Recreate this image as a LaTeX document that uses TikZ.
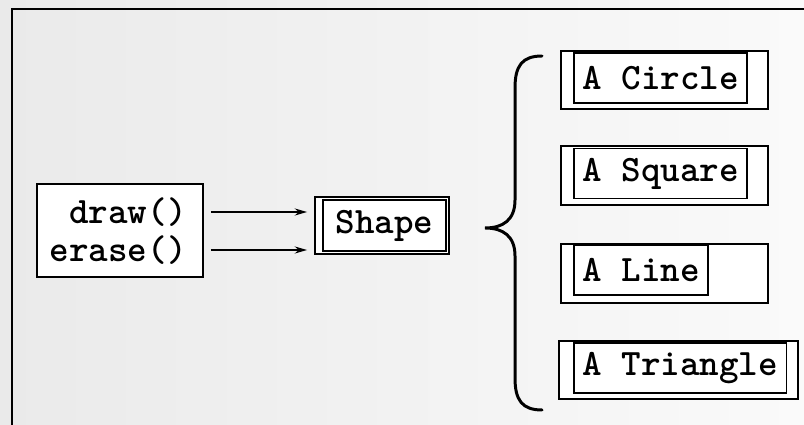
\documentclass[tikz,border=0pt]{standalone}
\usepackage{fontspec}
\newfontfamily\codefont{Latin Modern Mono Light}
\usetikzlibrary{arrows.meta}
\definecolor{bgleft}{RGB}{234,234,234}
\definecolor{bgright}{RGB}{250,250,250}
\tikzset{
  code/.style={font=\codefont\bfseries\fontsize{21.2}{25}\selectfont, inner sep=0cm},
  frame/.style={draw=black, line width=1.1pt, fill=white, inner sep=0cm},
  label box/.style={code, frame, anchor=west, minimum height=1.0cm, inner xsep=0.17cm},
  call/.style={-{Stealth[length=7pt, width=4pt]}, line width=1pt, shorten <=0.14cm, shorten >=0.14cm},
}
\begin{document}
\begin{tikzpicture}[x=0.02cm, y=-0.02cm]
\useasboundingbox (0,0) rectangle (804,425);
\shade[left color=bgleft, right color=bgright] (0,0) rectangle (804,425);
\draw[line width=1.7pt] (12,425) -- (12,9) -- (804,9);
% the interface
\node[frame, minimum width=3.32cm, minimum height=1.86cm] at (120,230.5) (methods) {};
\node[code, anchor=east] at (187,212) (draw) {draw()};
\node[code, anchor=east] at (187,250) (erase) {erase()};
\node[frame, minimum width=2.68cm, minimum height=1.14cm] at (382,225.5) (shape) {};
\node[frame, code, minimum width=2.46cm, minimum height=1.02cm] at (384.5,225.5) (shapein) {Shape};
\draw[call] (draw -| methods.east) -- (draw -| shape.west);
\draw[call] (erase -| methods.east) -- (erase -| shape.west);
% the concrete shapes
\node[frame, minimum width=4.14cm, minimum height=1.16cm] at (664.5,80) (circle) {};
\node[label box] at (573,78) (circlein) {A Circle};
\node[frame, minimum width=4.14cm, minimum height=1.18cm] at (664.5,175.5) (square) {};
\node[label box] at (573,173.5) (squarein) {A Square};
\node[frame, minimum width=4.14cm, minimum height=1.18cm] at (664.5,273.5) (line) {};
\node[label box] at (573,270) (linein) {A Line};
\node[frame, minimum width=4.78cm, minimum height=1.16cm] at (678.5,370) (triangle) {};
\node[label box] at (573,368) (trianglein) {A Triangle};
% brace
\draw[line width=1.7pt, line cap=round]
  (542,56) .. controls (522,56) and (515,66) .. (515,88) -- (515,200)
  .. controls (515,220) and (503,228) .. (485,228)
  .. controls (503,228) and (515,236) .. (515,256) -- (515,378)
  .. controls (515,400) and (522,410) .. (542,410);
\end{tikzpicture}
\end{document}
